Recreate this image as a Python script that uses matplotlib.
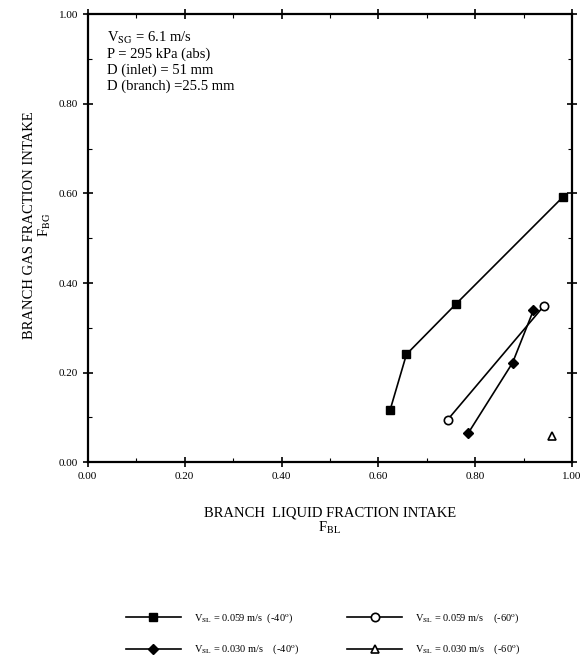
import matplotlib
matplotlib.use("Agg")
import matplotlib.pyplot as plt
from matplotlib.lines import Line2D
from matplotlib.ticker import MultipleLocator

plt.rcParams['font.family'] = ['Liberation Serif', 'DejaVu Serif']
plt.rcParams['mathtext.fontset'] = 'stix'

# branch liquid / gas fraction intake for each run
fbl_059_40 = [0.624, 0.658, 0.760, 0.981]
fbg_059_40 = [0.116, 0.241, 0.353, 0.592]

fbl_059_60 = [0.743, 0.941]
fbg_059_60 = [0.095, 0.348]

fbl_030_40 = [0.786, 0.877, 0.920]
fbg_030_40 = [0.066, 0.222, 0.339]

fbl_030_60 = [0.958]
fbg_030_60 = [0.058]

labels = [r"V$_{\rm SL}$ = 0.059 m/s  (-40$^{\rm o}$)",
          r"V$_{\rm SL}$ = 0.030 m/s    (-40$^{\rm o}$)",
          r"V$_{\rm SL}$ = 0.059 m/s    (-60$^{\rm o}$)",
          r"V$_{\rm SL}$ = 0.030 m/s    (-60$^{\rm o}$)"]

ticks = [0.0, 0.2, 0.4, 0.6, 0.8, 1.0]

fig = plt.figure(figsize=(5.85, 6.71), dpi=100)
ax = fig.add_axes([0.150, 0.311, 0.828, 0.668])

lw = 1.2
h1, = ax.plot(fbl_059_40, fbg_059_40, '-s', color='black', lw=lw, ms=6)
h3, = ax.plot(fbl_059_60, fbg_059_60, '-o', color='black', mfc='white', mew=1.2, lw=lw, ms=6)
h2, = ax.plot(fbl_030_40, fbg_030_40, '-D', color='black', lw=lw, ms=5)
ax.plot(fbl_030_60, fbg_030_60, '^', color='black', mfc='white', mew=1.2, ms=6)
# legend entry for the single triangle point still shows a line
h4 = Line2D([], [], marker='^', color='black', mfc='white', mew=1.2, lw=lw, ms=6)

ax.set_xlim(0, 1)
ax.set_ylim(0, 1)
ax.set_xticks(ticks)
ax.set_yticks(ticks)
ax.set_xticklabels(["%.2f" % t for t in ticks], fontsize=8)
ax.set_yticklabels(["%.2f" % t for t in ticks], fontsize=8)
ax.xaxis.set_minor_locator(MultipleLocator(0.1))
ax.yaxis.set_minor_locator(MultipleLocator(0.1))
ax.tick_params(which='major', direction='inout', length=7, width=1.2, top=True, right=True)
ax.tick_params(which='minor', direction='in', length=3, width=0.8, top=True, right=True)
for s in ax.spines.values():
    s.set_linewidth(1.6)

ax.set_xlabel("BRANCH  LIQUID FRACTION INTAKE\n" + r"F$_{\rm BL}$", fontsize=10.5,
              labelpad=18, linespacing=1.1)
ax.set_ylabel("BRANCH GAS FRACTION INTAKE\n" + r"F$_{\rm BG}$", fontsize=10.5,
              linespacing=1.1)
ax.yaxis.set_label_coords(-0.072, 0.53)

ax.text(0.04, 0.965,
        r"V$_{\rm SG}$ = 6.1 m/s" + "\nP = 295 kPa (abs)\nD (inlet) = 51 mm\nD (branch) =25.5 mm",
        transform=ax.transAxes, fontsize=10.5, va='top', ha='left', linespacing=1.2)

fig.legend([h1, h2, h3, h4], labels, ncol=2, loc='center', bbox_to_anchor=(0.553, 0.055),
           frameon=False, fontsize=7.5, handlelength=5.2, columnspacing=4.6,
           labelspacing=1.7, handletextpad=1.3)

fig.savefig("out.png", dpi=100)
